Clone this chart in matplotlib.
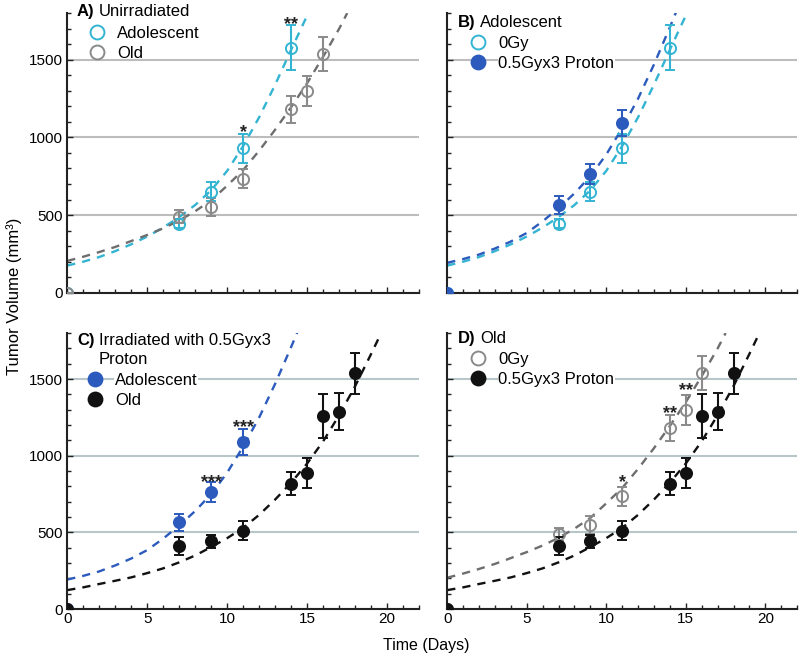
import matplotlib
matplotlib.use('Agg')
import matplotlib.pyplot as plt
from matplotlib.lines import Line2D
from matplotlib.ticker import MultipleLocator

plt.rcParams['font.family'] = ['Liberation Sans', 'DejaVu Sans']

# colours
CYAN = '#33b4d2'
BLUE = '#2c5bbd'
GRAY = '#8a8a8a'
GRAY_LINE = '#6e6e6e'
BLACK = '#111111'

# measured tumour volumes (mm3): mean and error bar
ado_0gy_days = [0, 7, 9, 11, 14]
ado_0gy_vol = [0, 445, 650, 930, 1578]
ado_0gy_err = [0, 28, 60, 95, 145]

old_0gy_days = [0, 7, 9, 11, 14, 15, 16]
old_0gy_vol = [0, 488, 550, 735, 1180, 1300, 1538]
old_0gy_err = [0, 42, 58, 63, 85, 97, 110]

ado_pr_days = [0, 7, 9, 11]
ado_pr_vol = [0, 565, 765, 1092]
ado_pr_err = [0, 55, 65, 85]

old_pr_days = [0, 7, 9, 11, 14, 15, 16, 17, 18]
old_pr_vol = [0, 410, 442, 512, 818, 888, 1262, 1288, 1537]
old_pr_err = [0, 58, 42, 64, 76, 98, 143, 122, 135]

# dashed growth fits
ado_0gy_fit_days = [0, 1, 2, 3, 4, 5, 6, 7, 8, 9, 10, 11, 12, 13, 14, 15, 15.2]
ado_0gy_fit = [175, 200, 230, 268, 312, 362, 420, 487, 565, 660, 785, 945, 1130, 1340, 1565, 1785, 1820]

old_0gy_fit_days = [0, 1, 2, 3, 4, 5, 6, 7, 8, 9, 10, 11, 12, 13, 14, 15, 16, 17, 17.5]
old_0gy_fit = [205, 232, 262, 295, 333, 372, 415, 465, 525, 595, 690, 790, 915, 1050, 1195, 1350, 1520, 1700, 1800]

ado_pr_fit_days = [0, 1, 2, 3, 4, 5, 6, 7, 8, 9, 10, 11, 12, 13, 14, 14.4]
ado_pr_fit = [193, 217, 246, 285, 330, 385, 460, 545, 640, 750, 890, 1060, 1250, 1470, 1710, 1810]

old_pr_fit_days = [0, 1, 2, 3, 4, 5, 6, 7, 8, 9, 10, 11, 12, 13, 14, 15, 16, 17, 18, 19, 19.6]
old_pr_fit = [124, 142, 164, 185, 207, 235, 266, 305, 350, 405, 463, 530, 615, 715, 825, 950, 1095, 1265, 1455, 1665, 1795]

# significance marks
a_star_days, a_star_vals, a_star_txt = [11, 14], [1075, 1770], ['*', '**']
c_star_days, c_star_vals, c_star_txt = [9, 11], [870, 1230], ['***', '***']
d_star_days, d_star_vals, d_star_txt = [11, 14, 15], [870, 1320, 1465], ['*', '**', '**']

series = {
    'ado_0gy': (ado_0gy_days, ado_0gy_vol, ado_0gy_err, ado_0gy_fit_days, ado_0gy_fit, CYAN, CYAN, False),
    'old_0gy': (old_0gy_days, old_0gy_vol, old_0gy_err, old_0gy_fit_days, old_0gy_fit, GRAY, GRAY_LINE, False),
    'ado_pr': (ado_pr_days, ado_pr_vol, ado_pr_err, ado_pr_fit_days, ado_pr_fit, BLUE, BLUE, True),
    'old_pr': (old_pr_days, old_pr_vol, old_pr_err, old_pr_fit_days, old_pr_fit, BLACK, BLACK, True),
}

fig = plt.figure(figsize=(8, 6.55), dpi=100)
axA = fig.add_axes([0.084, 0.553, 0.44, 0.427])
axB = fig.add_axes([0.559, 0.553, 0.4375, 0.427])
axC = fig.add_axes([0.084, 0.070, 0.44, 0.4215])
axD = fig.add_axes([0.559, 0.070, 0.4375, 0.4215])

panels = [
    (axA, 'A)', 'Unirradiated', ['ado_0gy', 'old_0gy'], ['Adolescent', 'Old'],
     (a_star_days, a_star_vals, a_star_txt), (0.028, 1.004), (0.057, 0.953), '#bdbdbd', False),
    (axB, 'B)', 'Adolescent', ['ado_0gy', 'ado_pr'], ['0Gy', '0.5Gyx3 Proton'],
     None, (0.031, 0.968), (0.06, 0.918), '#bdbdbd', True),
    (axC, 'C)', 'Irradiated with 0.5Gyx3\nProton', ['ado_pr', 'old_pr'], ['Adolescent', 'Old'],
     (c_star_days, c_star_vals, c_star_txt), (0.028, 1.0), (0.051, 0.855), '#b8c6ca', True),
    (axD, 'D)', 'Old', ['old_0gy', 'old_pr'], ['0Gy', '0.5Gyx3 Proton'],
     (d_star_days, d_star_vals, d_star_txt), (0.031, 0.982), (0.06, 0.931), '#b8c6ca', True),
]

for ax, tag, title, keys, labels, stars, tpos, lpos, gcol, textbox in panels:
    handles = []
    for key in keys:
        days, vol, err, fdays, fvol, col, lcol, filled = series[key]
        ax.plot(fdays, fvol, color=lcol, lw=1.7, linestyle=(0, (3.5, 3)), zorder=2)
        ax.errorbar(days, vol, yerr=err, fmt='o', ms=8, mew=1.4,
                    mfc=col if filled else 'none', mec=col, ecolor=col,
                    elinewidth=1.5, capsize=3.5, capthick=1.5, zorder=3)
        handles.append(Line2D([], [], linestyle='none', marker='o', ms=10, mew=1.4,
                              mfc=col if filled else 'none', mec=col))

    if stars is not None:
        for x, y, s in zip(*stars):
            ax.annotate(s, (x, y), xytext=(0, -8), textcoords='offset points',
                        ha='center', va='baseline', fontsize=13, fontweight='bold',
                        color='#222222')

    ax.set_xlim(0, 22)
    ax.set_ylim(0, 1800)
    ax.set_xticks([0, 5, 10, 15, 20])
    ax.set_yticks([0, 500, 1000, 1500])
    ax.xaxis.set_minor_locator(MultipleLocator(1))
    ax.yaxis.set_minor_locator(MultipleLocator(100))
    ax.tick_params(which='both', direction='in', width=1, labelsize=11, color='#222222')
    ax.tick_params(which='major', length=4)
    ax.tick_params(which='minor', length=2.6)
    ax.tick_params(axis='x', pad=2)
    ax.tick_params(axis='y', pad=3)
    for side in ['top', 'right']:
        ax.spines[side].set_visible(False)
    for side in ['left', 'bottom']:
        ax.spines[side].set_linewidth(1.5)
        ax.spines[side].set_color('#222222')
    ax.yaxis.grid(True, which='major', color=gcol, lw=1.5)
    ax.set_axisbelow(True)

    t1 = ax.text(tpos[0], tpos[1], tag, transform=ax.transAxes, fontsize=12,
                 fontweight='bold', ha='left', va='top' if '\n' in title else 'center')
    ax.annotate(title, xy=(1, 1), xycoords=t1, xytext=(3, 0), textcoords='offset points',
                ha='left', va='top', fontsize=12, multialignment='left',
                linespacing=1.35)

    leg = ax.legend(handles, labels, loc='upper left', bbox_to_anchor=lpos, frameon=False,
                    fontsize=12, handlelength=1.2, handletextpad=0.6, labelspacing=0.28,
                    borderpad=0, borderaxespad=0)
    if textbox:
        for t in leg.get_texts():
            t.set_bbox(dict(facecolor='white', edgecolor='none', pad=0.5))

axA.tick_params(labelbottom=False)
axB.tick_params(labelbottom=False, labelleft=False)
axD.tick_params(labelleft=False)

fig.text(0.017, 0.548, 'Tumor Volume (mm³)', rotation=90, ha='center', va='center', fontsize=12)
fig.text(0.533, 0.015, 'Time (Days)', ha='center', va='center', fontsize=11.5)

fig.savefig('out.png', dpi=100)
